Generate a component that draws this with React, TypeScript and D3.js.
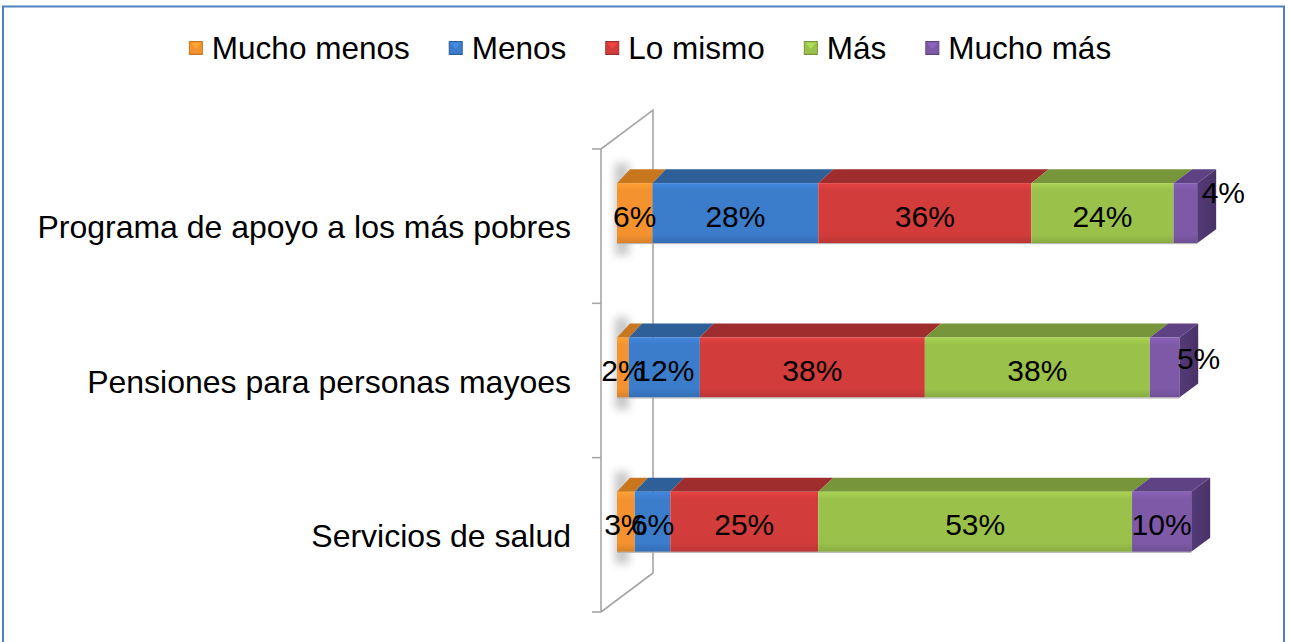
import React, { useEffect, useRef } from "react";
import * as d3 from "d3";

const categories = [
  "Programa de apoyo a los más pobres",
  "Pensiones para personas mayoes",
  "Servicios de salud",
];
const seriesNames = ["Mucho menos", "Menos", "Lo mismo", "Más", "Mucho más"];
const muchoMenos = [6, 2, 3];
const menos = [28, 12, 6];
const loMismo = [36, 38, 25];
const mas = [24, 38, 53];
const muchoMas = [4, 5, 10];

const seriesValues = [muchoMenos, menos, loMismo, mas, muchoMas];

// styling
const frontColors = ["#F59230", "#3B7CCB", "#D23C3B", "#9AC24B", "#7E59A8"];
const topColors = ["#C8771F", "#2E5F99", "#A02D2D", "#779639", "#5E4284"];
const sideColors = ["#B86D1C", "#2A5688", "#8E2828", "#6A8733", "#543A77"];

// label nudges for small end labels (category index, series index) -> offset px
const labelNudges: Record<string, [number, number]> = {
  "0-4": [38, -24],
  "1-4": [34, -12],
};

const W = 1290;
const H = 642;
const FONT = "'Liberation Sans', Arial, sans-serif";

export default function App() {
  const ref = useRef<SVGSVGElement | null>(null);

  useEffect(() => {
    const svg = d3.select(ref.current);
    svg.selectAll("*").remove();

    const defs = svg.append("defs");
    frontColors.forEach((c, i) => {
      const g = defs
        .append("linearGradient")
        .attr("id", `front${i}`)
        .attr("x1", 0)
        .attr("y1", 0)
        .attr("x2", 0)
        .attr("y2", 1);
      const base = d3.color(c)!;
      g.append("stop").attr("offset", "0%").attr("stop-color", d3.color(c)!.brighter(0.25).toString());
      g.append("stop").attr("offset", "12%").attr("stop-color", base.toString());
      g.append("stop").attr("offset", "85%").attr("stop-color", base.toString());
      g.append("stop").attr("offset", "100%").attr("stop-color", d3.color(c)!.darker(0.35).toString());
      const s = defs
        .append("linearGradient")
        .attr("id", `side${i}`)
        .attr("x1", 0)
        .attr("y1", 0)
        .attr("x2", 1)
        .attr("y2", 0);
      s.append("stop").attr("offset", "0%").attr("stop-color", sideColors[i]);
      s.append("stop").attr("offset", "100%").attr("stop-color", d3.color(sideColors[i])!.darker(0.4).toString());
    });
    const blur = defs.append("filter").attr("id", "shadowBlur").attr("x", "-50%").attr("y", "-50%").attr("width", "200%").attr("height", "200%");
    blur.append("feGaussianBlur").attr("stdDeviation", 4);

    // background + border
    svg.append("rect").attr("x", 0).attr("y", 0).attr("width", W).attr("height", H).attr("fill", "#fff");
    svg
      .append("rect")
      .attr("x", 3)
      .attr("y", 6.5)
      .attr("width", 1281)
      .attr("height", 700)
      .attr("fill", "none")
      .attr("stroke", "#4F81BD")
      .attr("stroke-width", 2);

    const x = d3.scaleLinear().domain([0, 100]).range([617, 1209]);
    const y = d3.scaleBand<string>().domain(categories).range([149, 612]);

    const depthDy = 14;
    const depthDx = (px: number) => 13 + ((px - 617) / 580) * 6;

    // wall
    const wallFrontX = 601;
    const wallBackX = 653;
    const wallDy = 39;
    const wall = svg.append("g").attr("stroke", "#A6A6A6").attr("stroke-width", 1.6).attr("fill", "none");
    const yTop = y.range()[0];
    const yBot = y.range()[1];
    wall
      .append("path")
      .attr(
        "d",
        `M${wallFrontX},${yBot}L${wallFrontX},${yTop}L${wallBackX},${yTop - wallDy}L${wallBackX},${yBot - wallDy}L${wallFrontX},${yBot}`
      );
    const tickYs = categories.map((c) => y(c)!).concat([yBot]);
    wall
      .selectAll("line.tick")
      .data(tickYs)
      .enter()
      .append("line")
      .attr("x1", wallFrontX - 9)
      .attr("x2", wallFrontX)
      .attr("y1", (d) => d)
      .attr("y2", (d) => d);

    // stacked data
    const rows = categories.map((c, ci) => {
      const r: any = { cat: c };
      seriesNames.forEach((s, si) => (r[s] = seriesValues[si][ci]));
      return r;
    });
    const stacked = d3.stack<any>().keys(seriesNames)(rows);

    const barH = 60;
    const barOffset = -13;

    const bars = svg.append("g");
    categories.forEach((c, ci) => {
      const cy = y(c)! + y.bandwidth() / 2 + barOffset;
      const yt = cy - barH / 2;
      const yb = cy + barH / 2;
      // shadow on wall
      const x0all = x(0);
      bars
        .append("rect")
        .attr("x", x0all - 2)
        .attr("y", yt - 20)
        .attr("width", 14)
        .attr("height", barH + 32)
        .attr("fill", "#9a9a9a")
        .attr("opacity", 0.55)
        .attr("filter", "url(#shadowBlur)");

      const g = bars.append("g");
      stacked.forEach((layer, si) => {
        const [a, b] = layer[ci];
        const x0 = x(a);
        const x1 = x(b);
        g.append("path")
          .attr(
            "d",
            `M${x0},${yt}L${x0 + depthDx(x0)},${yt - depthDy}L${x1 + depthDx(x1)},${yt - depthDy}L${x1},${yt}Z`
          )
          .attr("fill", topColors[si]);
      });
      stacked.forEach((layer, si) => {
        const [a, b] = layer[ci];
        const x0 = x(a);
        const x1 = x(b);
        g.append("rect")
          .attr("x", x0)
          .attr("y", yt)
          .attr("width", x1 - x0)
          .attr("height", barH)
          .attr("fill", `url(#front${si})`);
      });
      const lastIdx = stacked.length - 1;
      const xe = x(stacked[lastIdx][ci][1]);
      const de = depthDx(xe);
      g.append("path")
        .attr("d", `M${xe},${yt}L${xe + de},${yt - depthDy}L${xe + de},${yb - depthDy}L${xe},${yb}Z`)
        .attr("fill", `url(#side${lastIdx})`);
      g.append("line")
        .attr("x1", x(0))
        .attr("x2", xe)
        .attr("y1", yb + 0.5)
        .attr("y2", yb + 0.5)
        .attr("stroke", "#b0b0b0")
        .attr("stroke-width", 1);
    });

    // data labels
    const labels = svg.append("g").attr("font-family", FONT).attr("font-size", 30).attr("fill", "#000").attr("text-anchor", "middle");
    categories.forEach((c, ci) => {
      const cy = y(c)! + y.bandwidth() / 2 + barOffset;
      stacked.forEach((layer, si) => {
        const [a, b] = layer[ci];
        const nudge = labelNudges[`${ci}-${si}`] || [0, 0];
        labels
          .append("text")
          .attr("x", (x(a) + x(b)) / 2 + nudge[0])
          .attr("y", cy + 3 + nudge[1])
          .attr("dy", "0.35em")
          .text(`${b - a}%`);
      });
    });

    // category labels
    svg
      .append("g")
      .attr("font-family", FONT)
      .attr("font-size", 32)
      .attr("fill", "#000")
      .attr("text-anchor", "end")
      .selectAll("text")
      .data(categories)
      .enter()
      .append("text")
      .attr("x", 571)
      .attr("y", (d) => y(d)! + y.bandwidth() / 2 + 1)
      .attr("dy", "0.35em")
      .text((d) => d);

    // legend
    const legend = svg.append("g").attr("font-family", FONT).attr("font-size", 31.5).attr("fill", "#000");
    const items = seriesNames.map((s, i) => {
      const g = legend.append("g");
      const t = g
        .append("text")
        .attr("x", 23)
        .attr("y", 48)
        .attr("dy", "0.35em")
        .text(s);
      const w = (t.node() as SVGTextElement).getComputedTextLength();
      g.append("rect")
        .attr("x", 0.5)
        .attr("y", 41.5)
        .attr("width", 13)
        .attr("height", 13)
        .attr("fill", `url(#front${i})`)
        .attr("stroke", topColors[i])
        .attr("stroke-width", 1);
      g.append("path")
        .attr("d", "M2,43L12,43L7,49Z")
        .attr("fill", d3.color(frontColors[i])!.brighter(0.5).toString())
        .attr("opacity", 0.7);
      return { g, w };
    });
    const gap = 39;
    const total = items.reduce((acc, it) => acc + 23 + it.w, 0) + gap * (items.length - 1);
    let cur = 650 - total / 2;
    items.forEach((it) => {
      it.g.attr("transform", `translate(${cur},0)`);
      cur += 23 + it.w + gap;
    });
  }, []);

  return (
    <svg
      ref={ref}
      width={W}
      height={H}
      style={{ position: "absolute", left: 0, top: 0, display: "block" }}
    />
  );
}
